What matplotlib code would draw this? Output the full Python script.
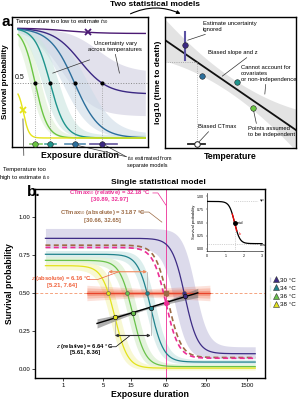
import numpy as np
import matplotlib.pyplot as plt
from matplotlib.patches import FancyArrowPatch, Patch
from matplotlib.lines import Line2D
from matplotlib.legend_handler import HandlerTuple

plt.rcParams['font.family'] = ['Liberation Sans', 'DejaVu Sans']
plt.rcParams['mathtext.fontset'] = 'custom'
plt.rcParams['mathtext.rm'] = 'Liberation Sans'
plt.rcParams['mathtext.it'] = 'Liberation Sans:italic'
plt.rcParams['mathtext.bf'] = 'Liberation Sans:bold'

# ---------------- panel a (left): one survival curve per temperature ----------------
a_cols = ['#4b1a73', '#3b2883', '#2c6f9c', '#1f948c', '#6bc543', '#e5e419']
a_band_cols = [None, '#cfcde0', '#cddbe7', '#cbe5e0', '#dcefd3', None]
a_up = [1.0, 1.0, 1.0, 1.0, 1.0, 0.45]
a_low = [0.95, 0.40, 0.0, 0.0, 0.0, 0.0]
a_mid = [4.0, 5.0, 4.6, 2.8, 1.7, 0.85]
a_k = [0.8, 1.0, 1.1, 1.8, 2.2, 5.0]
a_band_dm = [0, 1.3, 0.9, 0.6, 0.4, 0]
a_band_dl = [0, 0.2, 0.04, 0.03, 0.02, 0]
a_t50_lo = [5.7, 3.9, 2.4, 1.3]
a_t50_hi = [7.7, 5.4, 3.2, 2.2]
a_x_low, a_x_high = 5.6, 0.8   # the two "cannot estimate" crosses

# ---------------- panel a (right): log10 time to death vs temperature ----------------
r_temp = [1.53, 2.82, 5.5, 6.72]
r_logt = [7.86, 5.5, 5.04, 3.05]
r_cols = ['#3b2883', '#2c6f9c', '#1f948c', '#6bc543']
r_int, r_slope = 8.24, -0.687
r_ctmax, r_ctmax_lo, r_ctmax_hi = 2.44, 1.76, 3.05
r_err_lo, r_err_hi = 6.72, 8.85

# ---------------- panel b: single model ----------------
b_labels = ['30 °C', '34 °C', '36 °C', '38 °C']
b_cols = ['#3d2c85', '#20828c', '#69c24a', '#e2e21c']
b_band_cols = ['#d6d4e8', '#d6ecea', '#e0f1d8', '#f7f7cc']
b_up = [0.86, 0.755, 0.715, 0.68]
b_low = [0.10, 0.045, 0.015, 0.005]
b_mid = [128, 33, 16, 7.9]
b_band_f = [1.5, 1.2, 1.2, 1.2]
b_band_dy = [0.065, 0.025, 0.025, 0.025]
b_k = 9
ct_rel_up, ct_rel_low, ct_rel_mid = 0.80, 0.07, 60
ct_abs_up, ct_abs_low, ct_abs_mid = 0.815, 0.075, 66
b_xticks = [1, 5, 15, 60, 300, 1500]
b_yticks = [0.0, 0.25, 0.5, 0.75, 1.0]


def logis(x, up, low, mid, k):
    return low + (up - low) / (1 + np.exp(k * (x - mid)))


fig = plt.figure(figsize=(3.02, 4.0), dpi=100)

def fx(px):
    return px / 302

def fy(py):
    return 1 - py / 400

# ======================= a. left =======================
ax1 = fig.add_axes([fx(12), fy(147), 136 / 302, 130 / 400])
ax1.set_xlim(0, 10)
ax1.set_ylim(-0.082, 1.1)
ax1.set_xticks([])
ax1.set_yticks([])
for s in ax1.spines.values():
    s.set_linewidth(1.0)

xa = np.linspace(0.44, 9.8, 300)
for i in range(6):
    if a_band_cols[i] is not None:
        hi = logis(xa, a_up[i], a_low[i] + a_band_dl[i], a_mid[i] + a_band_dm[i], a_k[i] * 0.9)
        lo = logis(xa, a_up[i], max(a_low[i] - a_band_dl[i], 0), a_mid[i] - a_band_dm[i], a_k[i] * 0.9)
        ax1.fill_between(xa, lo, hi, color=a_band_cols[i], alpha=0.6, lw=0)
for i in range(6):
    ax1.plot(xa, logis(xa, a_up[i], a_low[i], a_mid[i], a_k[i]), color=a_cols[i], lw=1.0)

ax1.plot([0, 10], [0.5, 0.5], ls=':', color='#888888', lw=0.7)
ax1.text(0.2, 0.515, '0.5', fontsize=5, va='bottom', ha='left')

for j, i in enumerate(range(1, 5)):
    t50 = a_mid[i] + np.log((a_up[i] - a_low[i]) / (0.5 - a_low[i]) - 1) / a_k[i]
    ax1.plot([t50, t50], [-0.055, 0.5], ls=':', color='#999999', lw=0.6)
    ax1.plot(t50, 0.5, 'o', color='black', ms=2)
    ax1.plot([a_t50_lo[j], a_t50_hi[j]], [-0.055, -0.055], color=a_cols[i], lw=1.2, alpha=0.8)
    ax1.plot(t50, -0.055, 'o', mfc=a_cols[i], mec='#222222', mew=0.4, ms=4, zorder=5)

ax1.plot(a_x_low, logis(a_x_low, a_up[0], a_low[0], a_mid[0], a_k[0]), 'x',
         color=a_cols[0], ms=5, mew=1.3)
ax1.plot(a_x_high, logis(a_x_high, a_up[5], a_low[5], a_mid[5], a_k[5]), 'x',
         color=a_cols[5], ms=5, mew=1.3)

ax1.text(0.22, 1.06, 'Temperature too low to estimate $t_{50}$', fontsize=4.2, va='center')
ax1.text(7.6, 0.83, 'Uncertainty vary\nacross temperatures', fontsize=4.2, ha='center', va='center')
ax1.plot([5.7, 3.0], [0.71, 0.59], color='#333333', lw=0.5)
ax1.plot([7.6, 7.9], [0.76, 0.59], color='#333333', lw=0.5)
ax1.annotate('Temperature too\nhigh to estimate $t_{50}$', xy=(0.8, 0.2), xytext=(0.9, -0.33),
             fontsize=4.2, ha='center', va='center', annotation_clip=False,
             arrowprops=dict(arrowstyle='-', color='#333333', lw=0.5,
                             shrinkA=6, shrinkB=2))
ax1.text(8.45, -0.21, '$t_{50}$ estimated from\nseparate models', fontsize=4.0,
         va='center', ha='left', clip_on=False)
ax1.plot([8.4, 6.9], [-0.17, -0.07], color='#333333', lw=0.5, clip_on=False)
ax1.plot([8.4, 4.9], [-0.17, -0.07], color='#333333', lw=0.5, clip_on=False)
ax1.set_xlabel('Exposure duration', fontsize=6.3, fontweight='bold', labelpad=3)
ax1.set_ylabel('Survival probability', fontsize=5.8, fontweight='bold', labelpad=2)

# ======================= a. right =======================
ax2 = fig.add_axes([fx(165), fy(148), 131 / 302, 131 / 400])
ax2.set_xlim(0, 10)
ax2.set_ylim(0, 10)
ax2.set_xticks([])
ax2.set_yticks([])
for s in ax2.spines.values():
    s.set_linewidth(1.0)

xr = np.linspace(0, 10, 100)
yr = r_int + r_slope * xr
hw = 0.6 + 0.04 * (xr - 5) ** 2
ax2.fill_between(xr, yr - hw, yr + hw, color='#e3e3e3', lw=0)
ax2.plot(xr, yr, color='#111111', lw=1.3)
ax2.plot([0, r_ctmax], [r_int + r_slope * r_ctmax] * 2, ls=':', color='#999999', lw=0.6)
ax2.plot([r_ctmax, r_ctmax], [0.3, r_int + r_slope * r_ctmax], ls=':', color='#999999', lw=0.6)
ax2.plot([r_ctmax_lo, r_ctmax_hi], [0.3, 0.3], color='#222222', lw=1.3)
ax2.plot(r_ctmax, 0.3, 'o', mfc='white', mec='#222222', ms=4, mew=0.7)
ax2.plot([r_temp[0], r_temp[0]], [r_err_lo, r_err_hi], color='#5b52a3', lw=1.5)
for t, lt, c in zip(r_temp, r_logt, r_cols):
    ax2.plot(t, lt, 'o', mfc=c, mec='#222222', mew=0.4, ms=4, zorder=5)

anno = dict(arrowstyle='-', color='#333333', lw=0.5, shrinkA=0, shrinkB=2)
ax2.annotate('Estimate uncertainty\nignored', xy=(r_temp[0], r_logt[0] + 0.3),
             xytext=(2.9, 9.3), fontsize=4.2, va='center', arrowprops=anno)
ax2.annotate('Biased slope and z', xy=(4.2, r_int + r_slope * 4.2), xytext=(3.3, 7.3),
             fontsize=4.2, va='center', arrowprops=dict(anno, relpos=(0.85, 0)))
ax2.annotate('Cannot account for\ncovariates\nor non-independence', xy=(7.6, 3.9),
             xytext=(5.8, 5.7), fontsize=4.2, va='center',
             arrowprops=dict(anno, relpos=(0.45, 0)))
ax2.annotate('Points assumed\nto be independent', xy=(r_temp[3], r_logt[3]),
             xytext=(6.3, 1.25), fontsize=4.2, va='center',
             arrowprops=dict(anno, relpos=(0.2, 1)))
ax2.annotate('Biased CTmax', xy=(r_ctmax, 0.3), xytext=(2.5, 1.65), fontsize=4.2,
             va='center', arrowprops=dict(anno, relpos=(0.35, 0)))
ax2.set_xlabel('Temperature', fontsize=6.3, fontweight='bold', labelpad=3)
ax2.set_ylabel('log10 (time to death)', fontsize=6, fontweight='bold', labelpad=2)

fig.text(fx(2), fy(22), 'a.', fontsize=11, fontweight='bold', va='center')
fig.text(fx(155), fy(4), 'Two statistical models', fontsize=6, fontweight='bold',
         ha='center', va='center')
fig.add_artist(FancyArrowPatch((fx(128), fy(15)), (fx(183), fy(15)),
                               transform=fig.transFigure, connectionstyle='arc3,rad=-0.25',
                               arrowstyle='-|>', mutation_scale=5, lw=0.8, color='black'))

# ======================= b. =======================
ax3 = fig.add_axes([fx(35), fy(378), 230 / 302, 189 / 400])
ax3.set_xscale('log')
ax3.set_xlim(0.33, 3100)
ax3.set_ylim(-0.06, 1.185)
ax3.set_xticks(b_xticks)
ax3.set_xticklabels([str(v) for v in b_xticks])
ax3.xaxis.set_minor_locator(plt.NullLocator())
ax3.set_yticks(b_yticks)
ax3.set_yticklabels(['%.2f' % v for v in b_yticks])
ax3.tick_params(labelsize=4.3, length=2, width=0.5, pad=1.5)
for s in ax3.spines.values():
    s.set_linewidth(1.0)

xb = np.logspace(np.log10(0.5), np.log10(2100), 400)
lb = np.log10(xb)
for i in range(4):
    hi = logis(lb, b_up[i] + b_band_dy[i], b_low[i] + b_band_dy[i] * 0.7,
               np.log10(b_mid[i] * b_band_f[i]), b_k)
    lo = logis(lb, b_up[i] - b_band_dy[i], b_low[i] - b_band_dy[i] * 0.5,
               np.log10(b_mid[i] / b_band_f[i]), b_k)
    ax3.fill_between(xb, lo, hi, color=b_band_cols[i], alpha=0.85, lw=0)

ax3.axhline(0.5, ls='--', color='#f5a37f', lw=0.7, dashes=(3, 2))
ax3.axvline(ct_rel_mid, color='#ec2d95', lw=0.6)

for i in range(4):
    ax3.plot(xb, logis(lb, b_up[i], b_low[i], np.log10(b_mid[i]), b_k), color=b_cols[i], lw=0.9)

ax3.plot(xb, logis(lb, ct_abs_up, ct_abs_low, np.log10(ct_abs_mid), b_k), color='#9c6b45',
         lw=1.2, dashes=(3, 2))
ax3.plot(xb, logis(lb, ct_rel_up, ct_rel_low, np.log10(ct_rel_mid), b_k), color='#ec2d95',
         lw=1.2, dashes=(3, 2))

# z (absolute): 0.5 crossings
x50 = [10 ** (np.log10(b_mid[i]) + np.log((b_up[i] - b_low[i]) / (0.5 - b_low[i]) - 1) / b_k)
       for i in range(4)]
xo = np.logspace(np.log10(2.6), np.log10(346), 200)
lo_ = np.log10(xo)
for w, a in [(0.045, 0.18), (0.03, 0.25), (0.015, 0.35)]:
    ww = w * (0.6 + 0.5 * np.abs(lo_ - 1.47))
    ax3.fill_between(xo, 0.5 - ww, 0.5 + ww, color='#f0603a', alpha=a, lw=0)
ax3.plot(xo, np.full_like(xo, 0.5), color='#e8432b', lw=0.9)

# z (relative): mid points
lmid = np.log10(b_mid)
ymid = [(u + l) / 2 for u, l in zip(b_up, b_low)]
cf = np.polyfit(lmid, ymid, 1)
lz = np.linspace(0.59, 2.33, 100)
yz = np.polyval(cf, lz)
wz = 0.006 + 0.03 * np.abs(lz - 1.46) ** 1.5
ax3.fill_between(10 ** lz, yz - wz, yz + wz, color='#7a7a7a', alpha=0.6, lw=0)
ax3.plot(10 ** lz, yz, color='black', lw=1.0)

for i in range(4):
    ax3.plot(x50[i], 0.5, 'o', mfc=b_cols[i], mec='#555555', mew=0.4, ms=2.8, zorder=6)
    ax3.plot(b_mid[i], ymid[i], 'o', mfc=b_cols[i], mec='#111111', mew=0.5, ms=3.2, zorder=6)
ax3.plot(ct_rel_mid, (ct_rel_up + ct_rel_low) / 2, 'o', mfc='#ec2d95', mec='#ec2d95', ms=2.8, zorder=6)
ax3.plot(ct_rel_mid, 0.5, 's', mfc='#9c6b45', mec='#9c6b45', ms=2.3, zorder=6)

# guide box for z
ya, yb = 0.64, 0.22
for xv in [x50[3], x50[1]]:
    ax3.plot([xv, xv], [0.5, ya], color='#aaaaaa', lw=0.5)
for i in [3, 1]:
    ax3.plot([b_mid[i], b_mid[i]], [yb, ymid[i]], color='#aaaaaa', lw=0.5)
ax3.annotate('', xy=(x50[1], ya), xytext=(x50[3], ya),
             arrowprops=dict(arrowstyle='<|-|>', color='#f08a5d', lw=0.8, mutation_scale=4,
                             shrinkA=0, shrinkB=0))
ax3.annotate('', xy=(b_mid[1], yb), xytext=(b_mid[3], yb),
             arrowprops=dict(arrowstyle='<|-|>', color='#333333', lw=0.8, mutation_scale=4,
                             shrinkA=0, shrinkB=0))

def bx(px):
    return 10 ** ((px - 63) / 57.9)

def by(py):
    return (369 - py) / 151

ax3.text(bx(110), by(194), r'CTmax$_{50}$ (relative) = 32.18 °C', color='#ec2d95',
         fontsize=4.2, fontweight='bold', ha='center', va='center')
ax3.text(bx(110), by(201), '[30.89, 32.97]', color='#ec2d95', fontsize=4.2,
         fontweight='bold', ha='center', va='center')
ax3.plot([bx(153), bx(158), bx(166)], [by(194), by(194), by(206)], color='#ec2d95', lw=0.5)
ax3.text(bx(103), by(213), r'CTmax$_{50}$ (absolute) = 31.87 °C', color='#9c6b45',
         fontsize=4.2, fontweight='bold', ha='center', va='center')
ax3.text(bx(103), by(221), '[30.66, 32.65]', color='#9c6b45', fontsize=4.2,
         fontweight='bold', ha='center', va='center')
ax3.plot([bx(139), bx(149), bx(162)], [by(213), by(213), by(223)], color='#9c6b45', lw=0.5)
ax3.text(bx(62), by(279), r'$z$ (absolute) = 6.16 °C', color='#f0603a', fontsize=4.2,
         fontweight='bold', ha='center', va='center')
ax3.text(bx(62), by(286), '[5.21, 7.64]', color='#f0603a', fontsize=4.2,
         fontweight='bold', ha='center', va='center')
ax3.plot([bx(88), bx(98), bx(120)], [by(280), by(280), by(272)], color='#f0603a', lw=0.5)
ax3.text(bx(85), by(347), r'$z$ (relative) = 6.64 °C', color='black', fontsize=4.2,
         fontweight='bold', ha='center', va='center')
ax3.text(bx(85), by(353), '[5.61, 8.36]', color='black', fontsize=4.2,
         fontweight='bold', ha='center', va='center')
ax3.plot([bx(110), bx(116), bx(130)], [by(347), by(347), by(336)], color='black', lw=0.5)

ax3.set_xlabel('Exposure duration', fontsize=6.3, fontweight='bold', labelpad=1.5)
ax3.set_ylabel('Survival probability', fontsize=6.2, fontweight='bold', labelpad=3)

handles = []
for i in range(4):
    handles.append((Patch(color=b_band_cols[i]),
                    Line2D([], [], color=b_cols[i], lw=0.8),
                    Line2D([], [], marker='^', ls='', mfc=b_cols[i], mec='#333333',
                           mew=0.4, ms=4)))
ax3.legend(handles, b_labels, handler_map={tuple: HandlerTuple(ndivide=None)},
           loc='center left', bbox_to_anchor=(1.01, 0.455), frameon=False,
           fontsize=4.5, handlelength=1.0, handleheight=1.0, labelspacing=0.35,
           handletextpad=0.6, borderaxespad=0)

fig.text(fx(27), fy(192), 'b.', fontsize=11, fontweight='bold', va='center')
fig.text(fx(158), fy(183), 'Single statistical model', fontsize=6, fontweight='bold',
         ha='center', va='center')

# ---------------- inset: 4-parameter curve ----------------
axi = fig.add_axes([fx(207), fy(251), 56 / 302, 58 / 400])
axi.set_xlim(0, 3.05)
axi.set_ylim(-0.04, 1.06)
axi.spines['top'].set_visible(False)
axi.spines['right'].set_visible(False)
for s in ['left', 'bottom']:
    axi.spines[s].set_linewidth(0.4)
axi.set_xticks([0, 1, 2, 3])
axi.set_yticks(b_yticks)
axi.set_yticklabels(['%.2f' % v for v in b_yticks])
axi.tick_params(labelsize=2.6, length=1, width=0.3, pad=1)
axi.set_ylabel('Survival probability', fontsize=3, labelpad=1)
xi = np.linspace(0, 3, 200)
axi.plot([1.45, 2.8], [0.9, 0.9], ls=':', color='#aaaaaa', lw=0.5)
axi.plot([0, 2.8], [0.1, 0.1], ls=':', color='#aaaaaa', lw=0.5)
axi.plot([1.5, 1.5], [0, 0.5], ls=':', color='#aaaaaa', lw=0.5)
axi.plot(xi, logis(xi, 0.9, 0.1, 1.5, 7), color='black', lw=0.9)
xk = np.linspace(1.38, 1.62, 20)
axi.plot(xk, logis(xk, 0.9, 0.1, 1.5, 7), color='red', lw=0.9)
axi.plot(1.5, 0.5, 'o', color='black', ms=2.5)
axi.text(1.6, 0.5, 'mid', fontsize=3, va='center')
axi.text(1.75, 0.28, 'k', fontsize=3, color='red', va='center', style='italic')
axi.text(2.85, 0.93, 'up', fontsize=3, va='center')
axi.text(2.85, 0.07, 'low', fontsize=3, va='center')

fig.savefig('out.png', dpi=100)
